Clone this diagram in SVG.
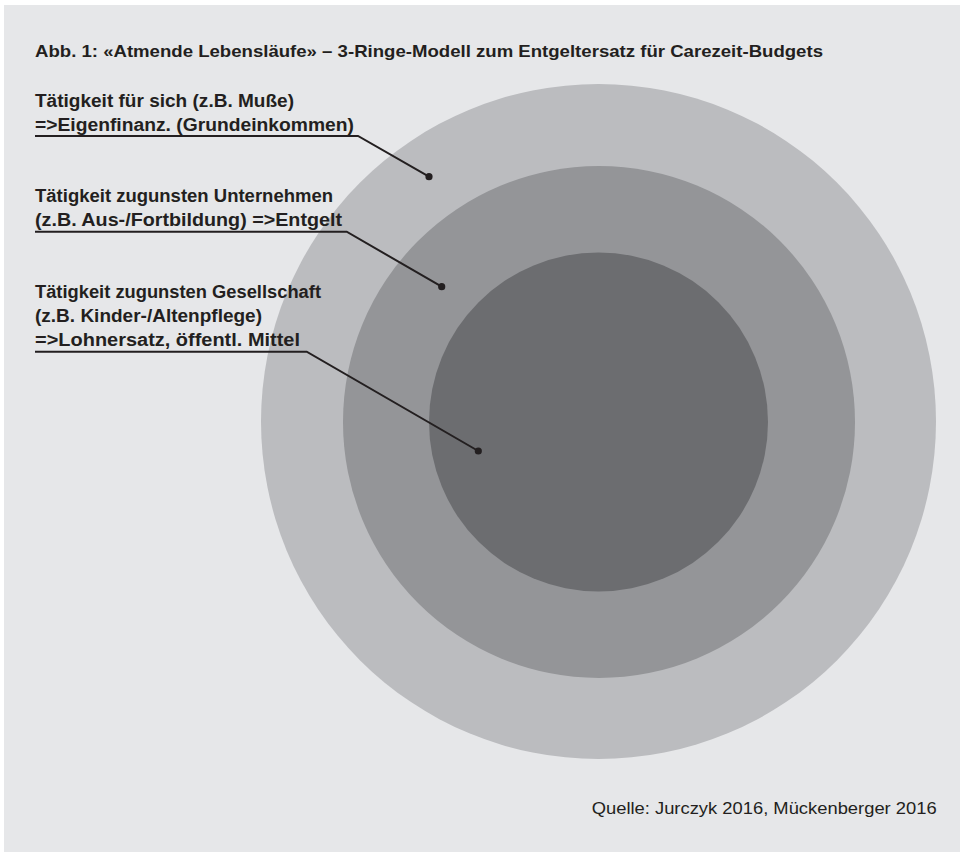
<svg xmlns="http://www.w3.org/2000/svg" width="960" height="852" viewBox="0 0 960 852">
<style>
.t{font-family:"Liberation Sans",Arial,sans-serif;fill:#231f20}
.b{font-weight:bold;font-size:18px}
.h{font-weight:bold;font-size:17px}
.s{font-size:17px}
.ln{fill:none;stroke:#231f20;stroke-width:2}
.dot{fill:#231f20}
</style>
<rect x="0" y="0" width="960" height="852" fill="#ffffff"/>
<rect x="4" y="5" width="956" height="847" fill="#e6e7e9"/>
<g id="ring-outer"><circle cx="598.5" cy="421.5" r="337.5" fill="#bbbcbf"/></g>
<g id="ring-middle"><circle cx="599" cy="422" r="256" fill="#949598"/></g>
<g id="ring-inner"><circle cx="598.5" cy="422" r="169.5" fill="#6c6d70"/></g>
<g id="title"><text class="t h" x="35" y="56.7" textLength="788" lengthAdjust="spacingAndGlyphs">Abb. 1: «Atmende Lebensläufe» – 3-Ringe-Modell zum Entgeltersatz für Carezeit-Budgets</text></g>
<g id="label-1">
<text class="t b" x="35" y="106.5" textLength="259" lengthAdjust="spacingAndGlyphs">Tätigkeit für sich (z.B. Muße)</text>
<text class="t b" x="35" y="130.5" textLength="319" lengthAdjust="spacingAndGlyphs">=&gt;Eigenfinanz. (Grundeinkommen)</text>
</g>
<g id="label-2">
<text class="t b" x="35" y="201.7" textLength="298" lengthAdjust="spacingAndGlyphs">Tätigkeit zugunsten Unternehmen</text>
<text class="t b" x="35" y="225.7" textLength="307" lengthAdjust="spacingAndGlyphs">(z.B. Aus-/Fortbildung) =&gt;Entgelt</text>
</g>
<g id="label-3">
<text class="t b" x="35" y="298" textLength="286" lengthAdjust="spacingAndGlyphs">Tätigkeit zugunsten Gesellschaft</text>
<text class="t b" x="35" y="321.7" textLength="227" lengthAdjust="spacingAndGlyphs">(z.B. Kinder-/Altenpflege)</text>
<text class="t b" x="35" y="345.7" textLength="265" lengthAdjust="spacingAndGlyphs">=&gt;Lohnersatz, öffentl. Mittel</text>
</g>
<g id="connectors">
<polyline class="ln" points="35,136 358,136 429,176.7"/>
<circle class="dot" cx="429" cy="176.7" r="3.6"/>
<polyline class="ln" points="35,231.7 346.7,231.7 441.7,286.7"/>
<circle class="dot" cx="441.7" cy="286.7" r="3.6"/>
<polyline class="ln" points="35,351.7 306.7,351.7 478.3,451"/>
<circle class="dot" cx="478.3" cy="451" r="3.6"/>
</g>
<g id="source"><text class="t s" x="591.7" y="814" textLength="345" lengthAdjust="spacingAndGlyphs">Quelle: Jurczyk 2016, Mückenberger 2016</text></g>
</svg>
